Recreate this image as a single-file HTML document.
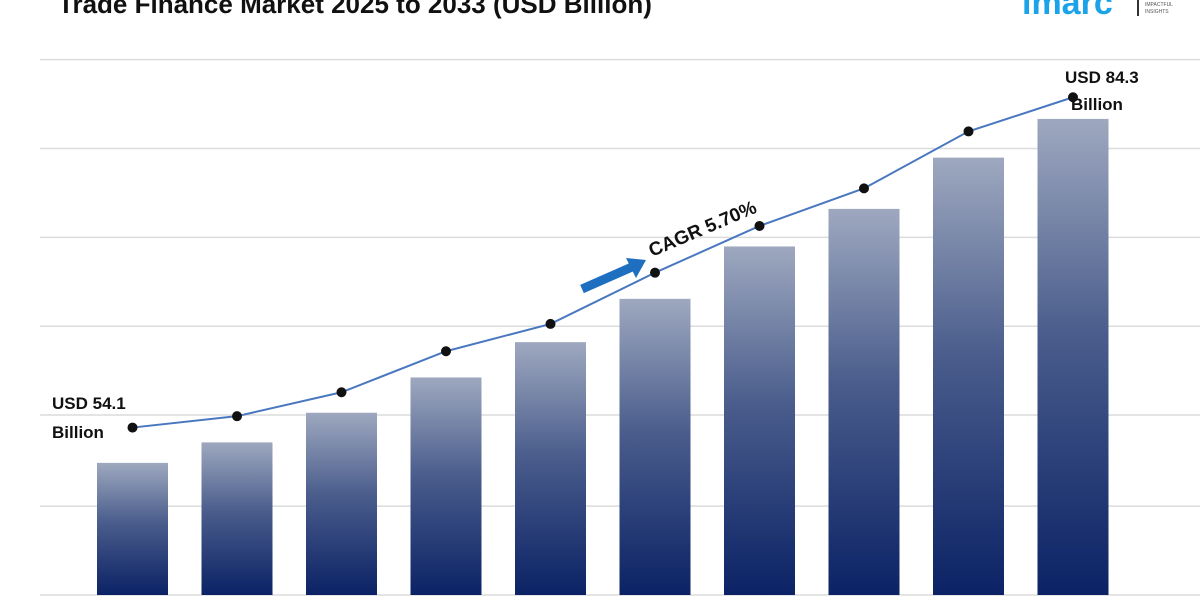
<!DOCTYPE html>
<html><head><meta charset="utf-8"><style>
html,body{margin:0;padding:0;background:#fff;}
svg{display:block;font-family:"Liberation Sans",sans-serif;}
</style></head><body>
<svg id="chart" width="1200" height="600" viewBox="0 0 1200 600">
<defs>
<linearGradient id="barGrad" x1="0" y1="0" x2="0" y2="1">
<stop offset="0" stop-color="#9ea8bf"/><stop offset="0.45" stop-color="#4a5d8c"/><stop offset="1" stop-color="#0b2265"/>
</linearGradient>
</defs>
<text x="58" y="13" font-size="26" font-weight="bold" fill="#111">Trade Finance Market 2025 to 2033 (USD Billion)</text>
<g>
<text x="1022" y="14" font-size="34" font-weight="bold" fill="#1aa3e8">imarc</text>
<rect x="1137" y="0" width="2" height="16" fill="#333"/>
<text x="1145" y="6" font-size="5" fill="#555">IMPACTFUL</text>
<text x="1145" y="13" font-size="5" fill="#555">INSIGHTS</text>
</g>
<g id="grid"></g><g id="bars"></g><g id="line"></g>
<text x="52" y="409" font-size="17" font-weight="bold" fill="#111">USD 54.1</text>
<text x="52" y="438" font-size="17" font-weight="bold" fill="#111">Billion</text>
<text x="1065" y="83" font-size="17" font-weight="bold" fill="#111">USD 84.3</text>
<text x="1071" y="110" font-size="17" font-weight="bold" fill="#111">Billion</text>
<g>
<line x1="582" y1="289" x2="632" y2="267" stroke="#1f6fc0" stroke-width="9"/>
<polygon points="646,260 626,258 636,278" fill="#1f6fc0"/>
</g>
<text x="0" y="0" font-size="19" font-weight="bold" fill="#111" transform="translate(652,257) rotate(-23)">CAGR 5.70%</text>
</svg>
<script>
const categories = ["2024","2025","2026","2027","2028","2029","2030","2031","2032","2033"];
const barValues = [54.1,55.9,58.5,61.6,64.7,68.5,73.1,76.4,80.9,84.3];
const lineValues = [57.2,58.2,60.3,63.9,66.3,70.8,74.9,78.2,83.2,86.2];
const gridTicks = [42.5,50.3,58.3,66.1,73.9,81.7,89.5];
const NS="http://www.w3.org/2000/svg";
const yBase=595, yMin=42.5, pxPer=11.39;
function y(v){return yBase-(v-yMin)*pxPer;}
const x0=80, step=104.5, bw=71;
function xc(i){return x0+step*i+bw/2+17;}
const grid=document.getElementById('grid');
gridTicks.forEach(t=>{const l=document.createElementNS(NS,'line');
l.setAttribute('x1',40);l.setAttribute('x2',1200);l.setAttribute('y1',y(t));l.setAttribute('y2',y(t));
l.setAttribute('stroke','#dcdcdc');l.setAttribute('stroke-width','1.5');


grid.appendChild(l);});
const bars=document.getElementById('bars');
barValues.forEach((v,i)=>{const r=document.createElementNS(NS,'rect');
r.setAttribute('x',xc(i)-bw/2);r.setAttribute('y',y(v));r.setAttribute('width',bw);r.setAttribute('height',yBase-y(v));
r.setAttribute('fill','url(#barGrad)');


bars.appendChild(r);});
const lg=document.getElementById('line');
const pts=lineValues.map((v,i)=>xc(i)+','+y(v)).join(' ');
const pl=document.createElementNS(NS,'polyline');
pl.setAttribute('points',pts);pl.setAttribute('fill','none');pl.setAttribute('stroke','#4a78c0');pl.setAttribute('stroke-width','2');


lg.appendChild(pl);
lineValues.forEach((v,i)=>{const c=document.createElementNS(NS,'circle');
c.setAttribute('cx',xc(i));c.setAttribute('cy',y(v));c.setAttribute('r',5);c.setAttribute('fill','#111');


lg.appendChild(c);});
</script>
</body></html>
